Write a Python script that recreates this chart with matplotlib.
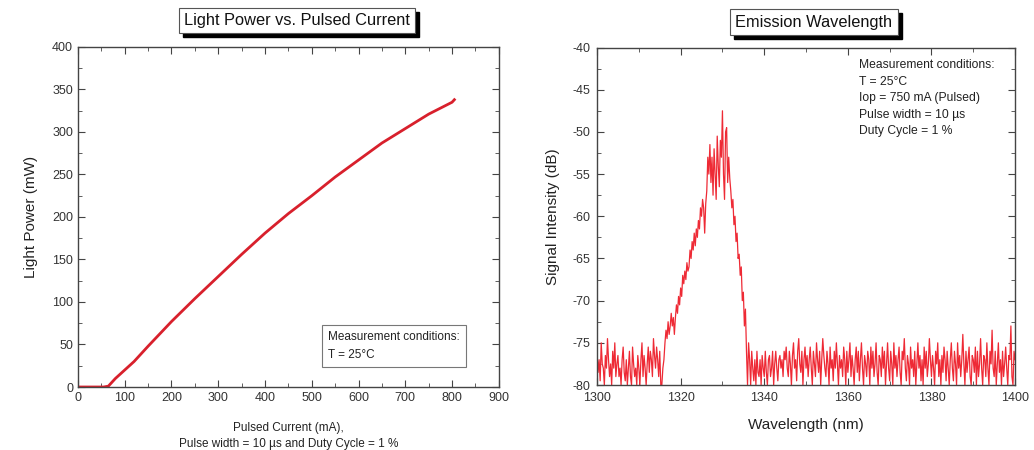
### Light power vs pulsed current and emission spectrum, saved as out.png

import numpy as np
import matplotlib.pyplot as plt
from matplotlib.patches import Rectangle
from matplotlib.ticker import MultipleLocator

plt.rcParams['font.family'] = ['Liberation Sans', 'DejaVu Sans']
plt.rcParams['axes.unicode_minus'] = False

# left panel: L-I curve
current = [0, 20, 40, 55, 65, 80, 100, 120, 150, 200, 250, 300, 350, 400,
           450, 500, 550, 600, 650, 700, 750, 800, 805]
power = [0, 0, 0, 0, 1, 10, 20, 30, 48, 77, 104, 130, 156, 181,
         204, 225, 247, 267, 287, 304, 321, 335, 338]

# right panel: spectrum, 0.25 nm steps from 1300 to 1400 nm
wl_start = 1300
wl_step = 0.25
signal = [
    -76, -78.5, -77, -79.5, -75, -77.5, -78, -80, -76.5, -78, -74.5, -77, -79, -77.5, -80, -76, -78, -75, -79, -77.5,
    -76.5, -79, -78, -80, -77, -75.5, -78.5, -79.5, -77, -80, -78, -76, -79, -80, -75.5, -77.5, -79, -78, -80, -76.5,
    -78, -80, -77, -75, -79, -76.5, -78, -80, -77.5, -75.5, -78.5, -76, -77, -79, -74.5, -76.5, -78, -75.5, -77, -79,
    -76, -80, -80, -78, -77, -75, -73.5, -74.5, -72.5, -74, -73, -71.5, -73, -72, -74, -72, -70.5, -71.5, -69.5, -70.5,
    -68.5, -69.5, -67, -68, -66.5, -67.5, -65.5, -66.5, -66, -64, -65, -63, -64, -62, -63.5, -61.5, -62.5, -60.5, -61.5, -59,
    -60, -58, -59, -62, -58.5, -57, -53, -55, -51.5, -56, -53, -57.5, -52, -55, -58, -50.5, -54, -56.5, -51, -53,
    -47.5, -55, -58, -50, -49.5, -56, -53, -55.5, -57, -59, -58, -61, -60, -63, -62, -65, -64.5, -67, -66, -70,
    -69, -73, -71, -76, -80, -75, -77, -80, -76, -78, -79.5, -77, -80, -76, -78.5, -79, -77, -80, -76.5, -78,
    -79, -76, -78.5, -80, -77, -76.5, -79, -78, -76, -80, -77.5, -76, -78, -79.5, -77, -76.5, -78, -77, -79, -76,
    -77, -75.5, -78, -79, -76, -77.5, -80, -76.5, -75, -78, -77, -79.5, -76, -74.5, -77.5, -78.5, -76, -80, -77, -75.5,
    -78, -76.5, -79, -77, -75.5, -78, -80, -76, -77.5, -79, -75, -77, -78.5, -76, -80, -77, -74.5, -76.5, -78, -79,
    -76, -77.5, -80, -75.5, -78, -77, -79.5, -76, -78, -75, -77.5, -80, -76.5, -78, -77, -79, -75.5, -77, -80, -76,
    -78.5, -77, -75, -79, -76.5, -78, -80, -77, -75.5, -78.5, -76, -79.5, -77, -75, -78, -80, -76.5, -77.5, -79, -76,
    -77, -80, -75.5, -78, -76, -79, -77.5, -75, -78.5, -80, -76.5, -77, -79, -75.5, -78, -76, -80, -77.5, -75, -78,
    -79.5, -76, -77.5, -80, -75, -78, -76.5, -79, -77, -75.5, -78.5, -80, -76, -77, -74.5, -78, -79.5, -76.5, -77.5, -80,
    -75.5, -78, -77, -79, -76, -80, -77.5, -75, -78, -76.5, -79.5, -77, -80, -75.5, -78, -76, -79, -77.5, -74.5, -77,
    -79, -76.5, -78, -80, -76, -77.5, -75, -79, -77, -80, -76.5, -78.5, -75.5, -77, -79.5, -76, -78, -80, -77, -75,
    -78, -79.5, -76, -77.5, -80, -75, -78, -76.5, -79, -77, -74, -77.5, -80, -76, -78.5, -77, -75.5, -79, -80, -76.5,
    -77, -78.5, -75.5, -80, -76, -79, -77.5, -74.5, -78, -80, -76.5, -77, -79, -75, -78, -80, -76, -77.5, -73.5, -78,
    -79, -76, -80, -77.5, -75, -78.5, -77, -80, -76, -79, -77.5, -75.5, -78, -80, -76.5, -77, -73, -79, -80, -76,
    -77,
]
wavelength = wl_start + wl_step * np.arange(len(signal))

TICK_COLOR = '#333333'


def style_axes(ax):
    for sp in ax.spines.values():
        sp.set_color('#444444')
        sp.set_linewidth(1.0)
    ax.tick_params(which='both', direction='in', top=True, right=True,
                   colors='#444444', labelcolor=TICK_COLOR, labelsize=9)
    ax.tick_params(which='major', length=5)
    ax.tick_params(which='minor', length=3)


def boxed_title(fig, x, y, text):
    t = fig.text(x, y, text, ha='center', va='center', fontsize=11.8, color='#111111', zorder=5,
                 bbox=dict(boxstyle='square,pad=0.32', facecolor='white', edgecolor='#555555', lw=0.8))
    return t


def add_shadow(fig, t, dx=4, dy=4):
    # black drop shadow behind the title box, measured after a draw
    bb = t.get_bbox_patch().get_window_extent()
    x0, y0 = fig.transFigure.inverted().transform((bb.x0 + dx, bb.y0 - dy))
    x1, y1 = fig.transFigure.inverted().transform((bb.x1 + dx, bb.y1 - dy))
    fig.patches.append(Rectangle((x0, y0), x1 - x0, y1 - y0, transform=fig.transFigure,
                                 facecolor='black', edgecolor='black', zorder=1))


def main():
    fig = plt.figure(figsize=(10.34, 4.5), dpi=100)

    ax1 = fig.add_axes([0.0754, 0.14, 0.407, 0.7556])
    ax1.plot(current, power, color='#d8202c', lw=2)
    ax1.set_xlim(0, 900)
    ax1.set_ylim(0, 400)
    ax1.xaxis.set_major_locator(MultipleLocator(100))
    ax1.xaxis.set_minor_locator(MultipleLocator(50))
    ax1.yaxis.set_major_locator(MultipleLocator(50))
    ax1.yaxis.set_minor_locator(MultipleLocator(25))
    style_axes(ax1)
    ax1.set_ylabel('Light Power (mW)', fontsize=11, color='#222222', labelpad=10)
    ax1.set_xlabel('Pulsed Current (mA),\nPulse width = 10 µs and Duty Cycle = 1 %',
                   fontsize=8.5, color='#222222', labelpad=13, linespacing=1.5)
    ax1.text(0.595, 0.077, 'Measurement conditions:\nT = 25°C', transform=ax1.transAxes,
             fontsize=8.5, color='#222222', va='bottom', ha='left', linespacing=1.7,
             bbox=dict(boxstyle='square,pad=0.5', facecolor='white', edgecolor='#777777', lw=0.8))

    ax2 = fig.add_axes([0.5774, 0.1444, 0.4043, 0.75])
    ax2.plot(wavelength, signal, color='#ee2a35', lw=0.9)
    ax2.set_xlim(1300, 1400)
    ax2.set_ylim(-80, -40)
    ax2.xaxis.set_major_locator(MultipleLocator(20))
    ax2.xaxis.set_minor_locator(MultipleLocator(10))
    ax2.yaxis.set_major_locator(MultipleLocator(5))
    ax2.yaxis.set_minor_locator(MultipleLocator(2.5))
    style_axes(ax2)
    ax2.tick_params(axis='x', which='major', pad=5)
    ax2.tick_params(axis='y', which='major', pad=5)
    ax2.set_ylabel('Signal Intensity (dB)', fontsize=11, color='#222222', labelpad=9)
    ax2.set_xlabel('Wavelength (nm)', fontsize=11, color='#222222', labelpad=10)
    ax2.text(0.627, 0.965, 'Measurement conditions:\nT = 25°C\nIop = 750 mA (Pulsed)\n'
             'Pulse width = 10 µs\nDuty Cycle = 1 %', transform=ax2.transAxes,
             fontsize=8.7, color='#222222', va='top', ha='left', linespacing=1.5)

    t1 = boxed_title(fig, 0.287, 0.955, 'Light Power vs. Pulsed Current')
    t2 = boxed_title(fig, 0.787, 0.951, 'Emission Wavelength')
    fig.canvas.draw()
    add_shadow(fig, t1)
    add_shadow(fig, t2)

    fig.savefig('out.png', dpi=100, facecolor='white')
    plt.close(fig)


if __name__ == "__main__":
    main()
